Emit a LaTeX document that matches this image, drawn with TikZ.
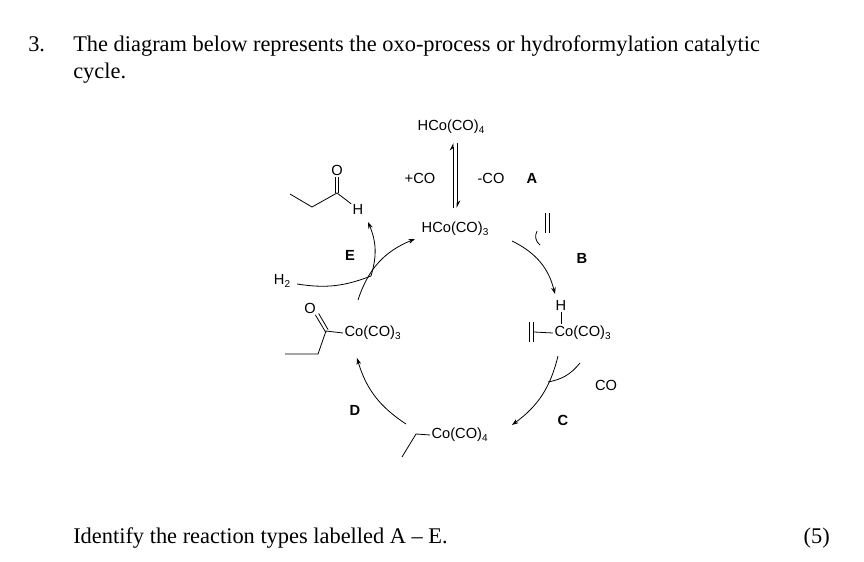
\documentclass[tikz,border=0pt]{standalone}
\usepackage{fontspec}
\setmainfont{Liberation Serif}
\newfontfamily\chem{Liberation Sans}
\newcommand{\sbs}[1]{\raisebox{-2.2pt}{\fontsize{7.5}{8}\selectfont #1}}
\usetikzlibrary{arrows.meta}
\begin{document}
\begin{tikzpicture}[x=0.75pt,y=-0.75pt,
  txt/.style={anchor=base west,font=\fontsize{16.8}{20}\selectfont,inner sep=0},
  ch/.style={font=\chem\fontsize{11}{13}\selectfont,inner sep=1pt},
  lab/.style={font=\chem\bfseries\fontsize{11}{13}\selectfont},
  bond/.style={line width=0.6pt},
  rx/.style={line width=0.6pt,-{Stealth[length=5pt,width=3.5pt]}}]
\useasboundingbox (0,0) rectangle (864,561);
\node[txt] (n3) at (28,51) {3.};
\node[txt] (t1) at (73,51) {The diagram below represents the oxo-process or hydroformylation catalytic};
\node[txt] (t2) at (73,78) {cycle.};
\node[txt] (q) at (73,543) {Identify the reaction types labelled A -- E.};
\node[txt,anchor=base east] (m) at (830,543) {(5)};

\node[ch] (c4) at (451,127) {HCo(CO)\sbs{4}};
\node[ch] (c3) at (455,229) {HCo(CO)\sbs{3}};
\coordinate (eqt) at (455,143); \coordinate (eqb) at (455,208);
\draw[bond,-{Stealth[left,length=5pt,width=5pt]}] ([xshift=-1.5pt]eqb) -- ([xshift=-1.5pt]eqt);
\draw[bond,-{Stealth[left,length=5pt,width=5pt]}] ([xshift=1.5pt]eqt) -- ([xshift=1.5pt]eqb);
\node[ch] (pco) at (420,178) {+CO};
\node[ch] (mco) at (491,178) {-CO};
\node[lab] (A) at (532,178) {A};

% aldehyde
\node[ch] (O1) at (337,170) {O};
\node[ch] (H1) at (358,209) {H};
\coordinate (a1) at (290,194); \coordinate (a2) at (312,207); \coordinate (a3) at (337,193);
\draw[bond] (a1)--(a2)--(a3)--(H1);
\draw[bond] ([xshift=-1.3pt]a3)--([xshift=-1.3pt]O1.south);
\draw[bond] ([xshift=1.3pt]a3)--([xshift=1.3pt]O1.south);

% acyl
\node[ch] (O2) at (310,308) {O};
\node[ch,anchor=west] (acyl) at (343,333) {Co(CO)\sbs{3}};
\coordinate (b1) at (326,331); \coordinate (b2) at (318,354); \coordinate (b3) at (285,354);
\draw[bond] (acyl.west)--(b1)--(b2)--(b3);
\draw[bond] ([yshift=-1.3pt]b1)--([xshift=-1.5pt]O2.south east);
\draw[bond] ([xshift=1.6pt,yshift=1pt]b1)--([xshift=1pt,yshift=1pt]O2.south east);

% olefin complex
\node[ch] (H3) at (561,305) {H};
\node[ch,anchor=west] (oc) at (553,333) {Co(CO)\sbs{3}};
\coordinate (o1) at (529,322); \coordinate (o2) at (533,322);
\draw[bond] (o1)--++(0,20) (o2)--++(0,20);
\draw[bond] (534,332)--(oc.west);
\draw[bond] (H3.south)--(561,324);

% alkyl
\node[ch,anchor=west] (al) at (430,435) {Co(CO)\sbs{4}};
\coordinate (k1) at (402,457); \coordinate (k2) at (416,434);
\draw[bond] (k1)--(k2)--(al.west);

% free olefin
\draw[bond] (545,213)--++(0,20) (549,213)--++(0,20);

% cycle arrows
\draw[rx] (358,300) to[bend left=25] (415,239);
\draw[rx] (512,241) to[bend left=25] (555,294);
\draw[rx] (558,356) to[bend left=20] (512,425);
\draw[rx] (406,424) to[bend left=20] (357,358);

% co-reactants
\coordinate (e1) at (371,276);
\draw[rx] (e1) to[bend right=20] (368,222);
\node[ch] (H2) at (282,281) {H\sbs{2}};
\draw[bond] (297,284) to[bend right=15] (e1);
\draw[bond] (537,231) to[bend right=40] (540,245);
\draw[bond] (580,363) to[bend left=20] (548,382);
\node[ch] (CO) at (606,385) {CO};

\node[lab] (B) at (582,258) {B};
\node[lab] (C) at (563,420) {C};
\node[lab] (D) at (355,410) {D};
\node[lab] (E) at (350,255) {E};
\end{tikzpicture}
\end{document}
